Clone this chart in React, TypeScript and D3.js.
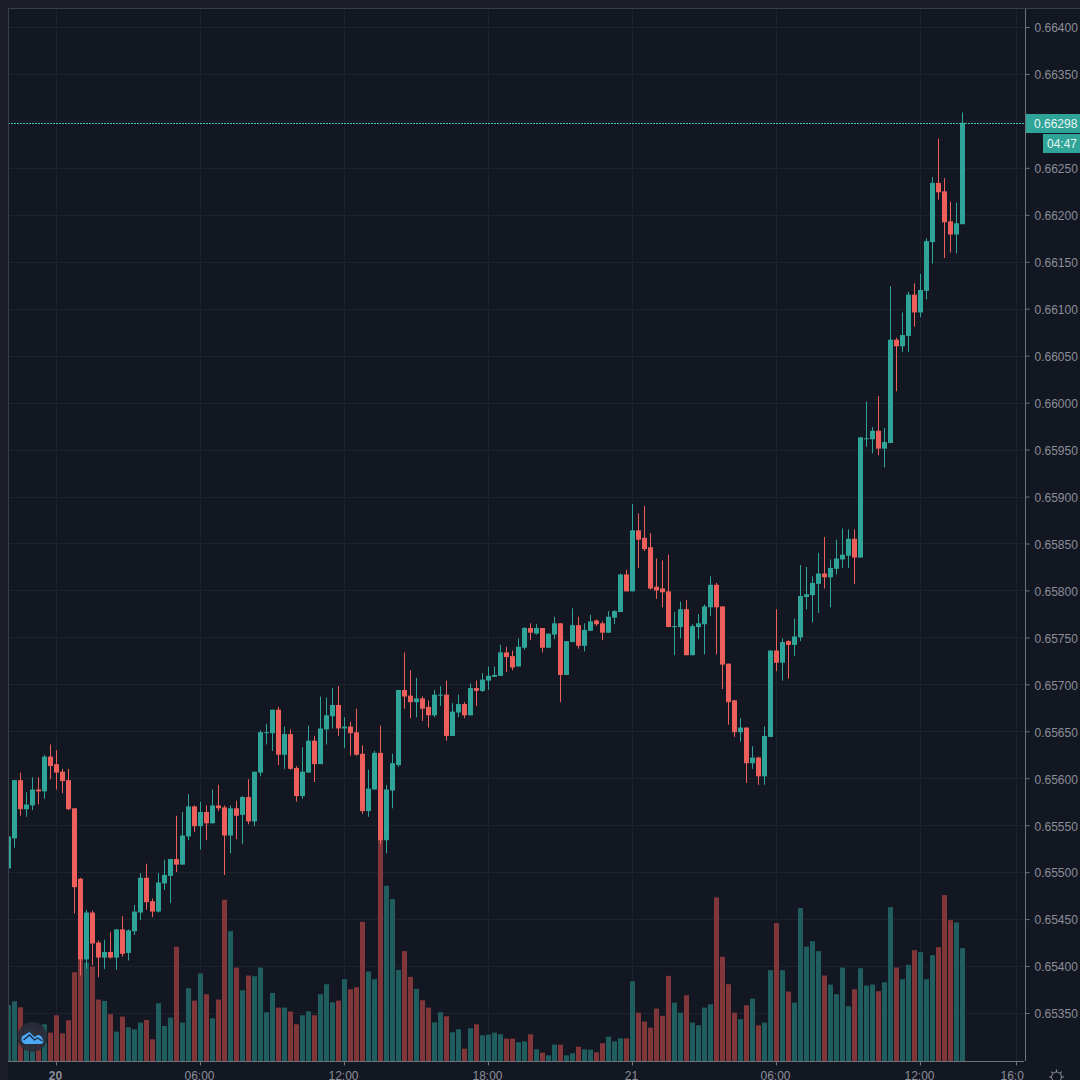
import { useEffect, useRef } from "react";
import * as d3 from "d3";

// 15 minute bars, prices in 1e-5 units
const opens = [
  65504, 65536, 65598, 65567, 65571, 65588, 65586, 65623, 65615, 65607,
  65598, 65568, 65493, 65407, 65457, 65425, 65409, 65415, 65409, 65439,
  65414, 65437, 65457, 65494, 65469, 65458, 65488, 65496, 65514, 65508,
  65538, 65570, 65549, 65564, 65552, 65571, 65569, 65539, 65568, 65561,
  65580, 65554, 65606, 65648, 65648, 65673, 65625, 65647, 65611, 65581,
  65606, 65640, 65615, 65652, 65666, 65678, 65653, 65655, 65649, 65626,
  65565, 65588, 65627, 65534, 65587, 65614, 65694, 65688, 65681, 65685,
  65676, 65667, 65688, 65689, 65645, 65670, 65679, 65667, 65696, 65693,
  65704, 65708, 65709, 65734, 65730, 65719, 65739, 65760, 65754, 65760,
  65739, 65753, 65765, 65710, 65745, 65763, 65741, 65757, 65768, 65765,
  65755, 65771, 65777, 65817, 65799, 65864, 65856, 65846, 65804, 65802,
  65799, 65761, 65761, 65780, 65731, 65761, 65764, 65782, 65806, 65783,
  65722, 65683, 65649, 65654, 65616, 65622, 65602, 65644, 65736, 65723,
  65746, 65742, 65750, 65793, 65795, 65807, 65818, 65814, 65823, 65833,
  65837, 65855, 65835, 65961, 65961, 65970, 65951, 65957, 66067, 66060,
  66071, 66115, 66096, 66119, 66171, 66234, 66225, 66193, 66179, 66190,
];
const highs = [
  65538, 65598, 65606, 65585, 65601, 65601, 65625, 65636, 65630, 65610,
  65610, 65568, 65494, 65460, 65459, 65427, 65428, 65436, 65439, 65453,
  65439, 65465, 65499, 65509, 65472, 65499, 65513, 65514, 65560, 65564,
  65583, 65571, 65575, 65571, 65588, 65593, 65571, 65571, 65576, 65581,
  65599, 65607, 65651, 65658, 65673, 65676, 65655, 65652, 65613, 65633,
  65656, 65645, 65687, 65686, 65696, 65698, 65665, 65660, 65674, 65635,
  65609, 65629, 65656, 65593, 65626, 65694, 65734, 65715, 65707, 65687,
  65683, 65694, 65698, 65704, 65680, 65689, 65681, 65701, 65704, 65712,
  65719, 65719, 65742, 65740, 65736, 65749, 65761, 65765, 65764, 65760,
  65754, 65772, 65765, 65746, 65781, 65772, 65765, 65774, 65769, 65767,
  65778, 65779, 65818, 65822, 65892, 65882, 65890, 65861, 65834, 65832,
  65838, 65777, 65788, 65790, 65764, 65775, 65785, 65815, 65808, 65783,
  65722, 65683, 65664, 65654, 65634, 65623, 65655, 65736, 65780, 65749,
  65747, 65770, 65827, 65825, 65815, 65840, 65857, 65833, 65854, 65866,
  65865, 65865, 65963, 66001, 65974, 66007, 65973, 66124, 66069, 66096,
  66118, 66127, 66137, 66175, 66240, 66281, 66239, 66214, 66213, 66309,
];
const lows = [
  65504, 65526, 65560, 65559, 65566, 65572, 65578, 65599, 65588, 65584,
  65566, 65456, 65390, 65397, 65401, 65388, 65397, 65408, 65396, 65410,
  65406, 65433, 65449, 65460, 65452, 65457, 65481, 65467, 65500, 65508,
  65534, 65543, 65524, 65534, 65552, 65565, 65497, 65520, 65535, 65530,
  65551, 65549, 65602, 65636, 65629, 65614, 65610, 65609, 65575, 65578,
  65606, 65596, 65615, 65636, 65653, 65645, 65632, 65624, 65624, 65562,
  65559, 65588, 65530, 65520, 65568, 65612, 65674, 65664, 65665, 65661,
  65654, 65665, 65677, 65640, 65645, 65665, 65664, 65667, 65677, 65692,
  65694, 65708, 65709, 65713, 65715, 65719, 65737, 65747, 65753, 65734,
  65739, 65748, 65681, 65710, 65745, 65738, 65735, 65757, 65762, 65747,
  65755, 65764, 65777, 65799, 65799, 65824, 65842, 65801, 65791, 65782,
  65761, 65731, 65749, 65731, 65731, 65748, 65732, 65773, 65732, 65695,
  65657, 65644, 65639, 65595, 65610, 65593, 65593, 65644, 65714, 65704,
  65706, 65730, 65746, 65780, 65766, 65776, 65802, 65782, 65817, 65824,
  65824, 65807, 65835, 65953, 65946, 65944, 65931, 65957, 66012, 66054,
  66054, 66081, 66091, 66110, 66148, 66216, 66154, 66160, 66159, 66190,
];
const closes = [
  65538, 65598, 65567, 65572, 65588, 65586, 65623, 65613, 65606, 65597,
  65567, 65484, 65407, 65457, 65424, 65409, 65415, 65409, 65439, 65413,
  65438, 65458, 65494, 65468, 65458, 65489, 65497, 65514, 65508, 65539,
  65570, 65549, 65564, 65552, 65571, 65568, 65539, 65568, 65560, 65580,
  65554, 65607, 65649, 65649, 65673, 65625, 65647, 65610, 65581, 65607,
  65640, 65615, 65653, 65667, 65678, 65653, 65655, 65648, 65625, 65565,
  65589, 65627, 65534, 65588, 65616, 65694, 65687, 65681, 65685, 65674,
  65667, 65689, 65689, 65645, 65671, 65679, 65667, 65696, 65693, 65705,
  65709, 65710, 65734, 65729, 65718, 65740, 65760, 65755, 65760, 65739,
  65754, 65765, 65710, 65746, 65763, 65741, 65758, 65767, 65764, 65755,
  65772, 65778, 65817, 65799, 65864, 65854, 65844, 65802, 65800, 65798,
  65761, 65762, 65780, 65731, 65762, 65765, 65783, 65806, 65782, 65721,
  65681, 65649, 65654, 65616, 65622, 65602, 65645, 65736, 65723, 65745,
  65742, 65751, 65794, 65796, 65808, 65818, 65814, 65824, 65834, 65838,
  65855, 65835, 65963, 65962, 65970, 65951, 65958, 66067, 66060, 66072,
  66115, 66096, 66120, 66172, 66234, 66224, 66192, 66179, 66191, 66298,
];
const volumes = [
  167, 179, 161, 100, 100, 90, 110, 85, 137, 83,
  122, 266, 305, 295, 283, 184, 180, 140, 88, 133,
  101, 95, 115, 123, 65, 173, 105, 130, 342, 115,
  218, 181, 262, 200, 128, 184, 483, 389, 280, 212,
  256, 254, 280, 146, 204, 160, 160, 148, 110, 137,
  149, 137, 200, 230, 176, 181, 245, 215, 221, 417,
  268, 245, 665, 525, 485, 273, 329, 252, 216, 182,
  160, 116, 146, 134, 86, 95, 37, 98, 110, 77,
  79, 85, 80, 67, 67, 56, 59, 80, 35, 25,
  17, 49, 49, 17, 23, 43, 35, 34, 26, 53,
  73, 59, 68, 68, 239, 145, 118, 100, 157, 135,
  255, 175, 145, 197, 115, 107, 160, 170, 490, 312,
  230, 145, 125, 167, 187, 107, 115, 272, 413, 272,
  208, 175, 458, 343, 359, 329, 256, 229, 200, 280,
  164, 215, 278, 226, 229, 209, 236, 461, 280, 245,
  288, 332, 326, 245, 317, 341, 497, 422, 415, 338,
];
const priceTicks = [
  0.664, 0.6635, 0.663, 0.6625, 0.662, 0.6615, 0.661, 0.6605, 0.66, 0.6595,
  0.659, 0.6585, 0.658, 0.6575, 0.657, 0.6565, 0.656, 0.6555, 0.655, 0.6545,
  0.654, 0.6535,
];
const timeBars = [8, 32, 56, 80, 104, 128, 152, 168]; // bar index of each tick
const timeLabels = ["20", "06:00", "12:00", "18:00", "21", "06:00", "12:00", "16:00"];
const lastPrice = 0.66298;
const countdown = "04:47";

const UP = "#2fa498";
const DOWN = "#ec5f5b";
const VOL_UP = "#1f5d5e";
const VOL_DOWN = "#813639";
const BG = "#131722";
const FRAME = "#1c1f2a";
const GRID = "#1e222c";
const LINE = "#6f737e";
const TEXT = "#8b8e98";
const FONT = "'Liberation Sans', Arial, sans-serif";

const PANE = { left: 8, right: 1025, top: 9, bottom: 1061 };

export default function App() {
  const svgRef = useRef<SVGSVGElement | null>(null);

  useEffect(() => {
    if (!svgRef.current) return;
    const svg = d3.select(svgRef.current);
    svg.selectAll("*").remove();

    svg.append("rect").attr("width", 1080).attr("height", 1080).attr("fill", FRAME);
    svg
      .append("rect")
      .attr("x", PANE.left)
      .attr("y", 8)
      .attr("width", 1072)
      .attr("height", 1072)
      .attr("fill", BG);

    const x = d3.scaleLinear().domain([0, 159]).range([8.5, 962.5]);
    const y = d3.scaleLinear().domain([0.6535, 0.664]).range([1013, 27]);
    const yVol = d3
      .scaleLinear()
      .domain([0, d3.max(volumes) as number])
      .range([PANE.bottom, 839]);
    const px = (v: number) => y(v / 1e5);

    const defs = svg.append("defs");
    defs
      .append("clipPath")
      .attr("id", "pane")
      .append("rect")
      .attr("x", PANE.left)
      .attr("y", PANE.top)
      .attr("width", PANE.right - PANE.left)
      .attr("height", PANE.bottom - PANE.top);
    defs
      .append("clipPath")
      .attr("id", "time-axis")
      .append("rect")
      .attr("x", 0)
      .attr("y", -2)
      .attr("width", PANE.right - 1)
      .attr("height", 22);

    // Grid
    const grid = svg.append("g").attr("stroke", GRID).attr("stroke-width", 1);
    priceTicks.forEach((p) => {
      const yy = Math.round(y(p)) + 0.5;
      grid.append("line").attr("x1", PANE.left).attr("x2", PANE.right).attr("y1", yy).attr("y2", yy);
    });
    timeBars.forEach((b) => {
      grid.append("line").attr("x1", x(b)).attr("x2", x(b)).attr("y1", PANE.top).attr("y2", PANE.bottom);
    });

    const plot = svg.append("g").attr("clip-path", "url(#pane)");
    const isUp = (i: number) => closes[i] >= opens[i];

    // Volume sits under the candles
    plot
      .append("g")
      .selectAll("rect")
      .data(volumes)
      .join("rect")
      .attr("x", (_d, i) => x(i) - 2.5)
      .attr("width", 5)
      .attr("y", (d) => yVol(d))
      .attr("height", (d) => PANE.bottom - yVol(d))
      .attr("fill", (_d, i) => (isUp(i) ? VOL_UP : VOL_DOWN));

    // Wicks
    plot
      .append("g")
      .selectAll("line")
      .data(opens)
      .join("line")
      .attr("x1", (_d, i) => x(i))
      .attr("x2", (_d, i) => x(i))
      .attr("y1", (_d, i) => px(highs[i]))
      .attr("y2", (_d, i) => px(lows[i]))
      .attr("stroke-width", 1)
      .attr("stroke", (_d, i) => (isUp(i) ? UP : DOWN));

    // Bodies
    plot
      .append("g")
      .selectAll("rect")
      .data(opens)
      .join("rect")
      .attr("x", (_d, i) => x(i) - 2.5)
      .attr("width", 5)
      .attr("y", (d, i) => px(Math.max(d, closes[i])))
      .attr("height", (d, i) => Math.max(1, Math.abs(px(d) - px(closes[i]))))
      .attr("fill", (_d, i) => (isUp(i) ? UP : DOWN));

    // Last price line
    const lastY = Math.round(y(lastPrice)) + 0.5;
    plot
      .append("line")
      .attr("x1", PANE.left)
      .attr("x2", PANE.right)
      .attr("y1", lastY)
      .attr("y2", lastY)
      .attr("stroke", "#35c4b4")
      .attr("stroke-dasharray", "2 1");

    // Price axis
    const yAxis = svg
      .append("g")
      .attr("transform", `translate(${PANE.right + 0.5},0)`)
      .call(
        d3
          .axisRight(y)
          .tickValues(priceTicks)
          .tickSize(4)
          .tickPadding(5)
          .tickFormat((d) => (d as number).toFixed(5))
      );
    yAxis.select(".domain").attr("stroke", LINE).attr("d", `M0,8V${PANE.bottom}`);
    yAxis.selectAll("line").attr("stroke", LINE);
    yAxis
      .selectAll("text")
      .attr("fill", TEXT)
      .attr("font-family", FONT)
      .attr("font-size", 12)
      .attr("dy", "0.4em");

    // Time axis
    const xAxis = svg
      .append("g")
      .attr("transform", `translate(0,${PANE.bottom + 0.5})`)
      .call(
        d3
          .axisBottom(x)
          .offset(0)
          .tickValues(timeBars)
          .tickSize(4)
          .tickPadding(6)
          .tickFormat((_d, i) => timeLabels[i])
      );
    xAxis.select(".domain").attr("stroke", LINE).attr("d", `M${PANE.left},0H${PANE.right}`);
    xAxis.selectAll("line").attr("stroke", LINE);
    xAxis
      .selectAll("text")
      .attr("fill", TEXT)
      .attr("font-family", FONT)
      .attr("font-size", 12)
      .attr("x", -1)
      .attr("font-weight", (_d, i) => (i === 0 ? "bold" : "normal"));
    xAxis.attr("clip-path", "url(#time-axis)");

    // Frame lines
    svg
      .append("line")
      .attr("x1", PANE.left)
      .attr("x2", 1080)
      .attr("y1", 8.5)
      .attr("y2", 8.5)
      .attr("stroke", "#3a3e49");
    svg
      .append("line")
      .attr("x1", 8.5)
      .attr("x2", 8.5)
      .attr("y1", 8)
      .attr("y2", PANE.bottom)
      .attr("stroke", "#3a3e49");

    // Last price and countdown tags
    const tags = svg.append("g").attr("font-family", FONT).attr("font-size", 12);
    tags.append("rect").attr("x", 1026).attr("y", 114).attr("width", 54).attr("height", 19).attr("fill", UP);
    tags
      .append("text")
      .attr("x", 1034)
      .attr("y", 128)
      .attr("fill", "#e6f5f3")
      .text(lastPrice.toFixed(5));
    tags.append("rect").attr("x", 1043).attr("y", 134).attr("width", 37).attr("height", 19).attr("fill", UP);
    tags.append("text").attr("x", 1047).attr("y", 148).attr("fill", "#e6f5f3").text(countdown);

    // Logo badge
    const logo = svg.append("g").attr("transform", "translate(32.5,1037)");
    logo.append("circle").attr("r", 15).attr("fill", "#2a2e39").attr("opacity", 0.92);
    logo
      .append("path")
      .attr(
        "d",
        "M-7,7 a5,5 0 0 1 -3,-8 L-3,-5 L2,0 L5,-2 a4.5,4.5 0 0 1 5,4 a3,3 0 0 1 -1,5 Z"
      )
      .attr("fill", "#4aa8f5");
    logo
      .append("path")
      .attr("d", "M-9,3 L-3,-2 L2,3 L5,1 L10,4")
      .attr("fill", "none")
      .attr("stroke", "#1a2a44")
      .attr("stroke-width", 1.3);

    // Settings gear, cut by the bottom of the page
    const gear = svg
      .append("g")
      .attr("transform", "translate(1056.5,1077)")
      .attr("stroke", TEXT)
      .attr("fill", "none");
    gear.append("circle").attr("r", 5);
    d3.range(0, 360, 45).forEach((a) => {
      gear
        .append("line")
        .attr("y1", -5)
        .attr("y2", -7.5)
        .attr("transform", `rotate(${a})`);
    });
  }, []);

  return (
    <svg
      ref={svgRef}
      width={1080}
      height={1080}
      style={{ position: "fixed", left: 0, top: 0, display: "block" }}
      role="img"
      aria-label="Candlestick chart with volume"
    />
  );
}
